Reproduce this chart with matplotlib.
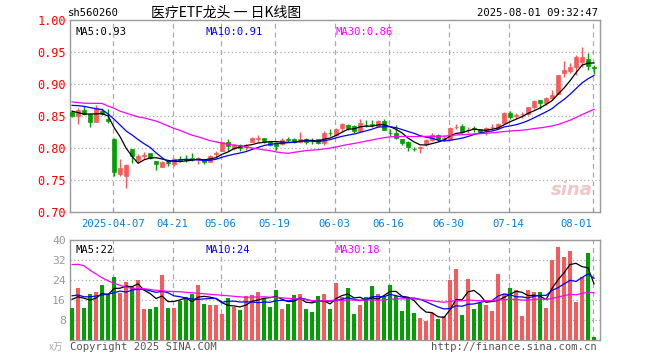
import matplotlib
matplotlib.use('Agg')
import matplotlib.pyplot as plt
import numpy as np
import pandas as pd

# ---------------- data ----------------
holidays = ['2025-04-04', '2025-05-01', '2025-05-02', '2025-05-05', '2025-06-02']
dates = [d.strftime('%Y-%m-%d') for d in pd.bdate_range('2025-03-26', '2025-08-01')
         if d.strftime('%Y-%m-%d') not in holidays]

opens = [0.856, 0.851, 0.8604, 0.8531, 0.8417, 0.8589, 0.845, 0.8146, 0.7594, 0.7573,
         0.799, 0.7817, 0.788, 0.792, 0.780, 0.7708, 0.779, 0.775, 0.7833, 0.7833,
         0.7855, 0.783, 0.783, 0.779, 0.7905, 0.7964, 0.8094, 0.801, 0.805, 0.802,
         0.8104, 0.8146, 0.8156, 0.8094, 0.808, 0.8063, 0.8146, 0.8146, 0.8094, 0.8146,
         0.8135, 0.814, 0.808, 0.8245, 0.8208, 0.8318, 0.8365, 0.835, 0.8276, 0.837,
         0.838, 0.835, 0.843, 0.8245, 0.8234, 0.8141, 0.810, 0.7995, 0.800, 0.8067,
         0.8130, 0.8208, 0.8150, 0.8140, 0.8330, 0.8354, 0.8280, 0.8310, 0.8296, 0.8270,
         0.8328, 0.8312, 0.8400, 0.8546, 0.8510, 0.8530, 0.8536, 0.8650, 0.8750, 0.8703,
         0.8781, 0.8848, 0.9171, 0.9213, 0.9275, 0.935, 0.9395, 0.9265]
closes = [0.851, 0.8604, 0.8531, 0.8417, 0.8625, 0.8536, 0.842, 0.7625, 0.7698, 0.774,
          0.7885, 0.7885, 0.789, 0.7844, 0.776, 0.7786, 0.777, 0.7833, 0.7813, 0.7818,
          0.783, 0.785, 0.779, 0.788, 0.792, 0.8094, 0.8032, 0.805, 0.800, 0.804,
          0.8167, 0.8156, 0.8104, 0.8052, 0.804, 0.8135, 0.8135, 0.8104, 0.8146, 0.8104,
          0.8125, 0.809, 0.8245, 0.8235, 0.8307, 0.838, 0.8323, 0.8276, 0.839, 0.8365,
          0.837, 0.8432, 0.8286, 0.824, 0.8156, 0.8089, 0.8026, 0.799, 0.8015, 0.8130,
          0.8208, 0.814, 0.8160, 0.8322, 0.8338, 0.8255, 0.8290, 0.8300, 0.8244, 0.8322,
          0.8335, 0.8385, 0.8546, 0.8484, 0.8520, 0.8540, 0.8640, 0.8744, 0.8708, 0.8791,
          0.8833, 0.9151, 0.9223, 0.9275, 0.9421, 0.943, 0.9291, 0.9255]
highs = [0.8583, 0.8625, 0.8667, 0.854, 0.8677, 0.863, 0.861, 0.8167, 0.7833, 0.7755,
         0.7995, 0.7915, 0.7935, 0.793, 0.780, 0.7795, 0.780, 0.785, 0.7886, 0.7896,
         0.792, 0.7865, 0.784, 0.790, 0.796, 0.8104, 0.8146, 0.8075, 0.806, 0.8075,
         0.8182, 0.821, 0.8166, 0.811, 0.8094, 0.8156, 0.817, 0.8156, 0.826, 0.8156,
         0.8156, 0.815, 0.8276, 0.8307, 0.8318, 0.839, 0.8375, 0.836, 0.8453, 0.845,
         0.8443, 0.8443, 0.8453, 0.8297, 0.8365, 0.8145, 0.811, 0.8026, 0.8036, 0.8145,
         0.824, 0.8225, 0.8205, 0.8335, 0.8375, 0.8375, 0.833, 0.8354, 0.8307, 0.8333,
         0.8385, 0.8400, 0.8567, 0.8588, 0.8546, 0.8567, 0.8650, 0.8755, 0.8755, 0.8796,
         0.891, 0.9151, 0.937, 0.933, 0.9459, 0.9588, 0.9494, 0.930]
lows = [0.849, 0.8385, 0.852, 0.8333, 0.8417, 0.852, 0.839, 0.7563, 0.757, 0.7385,
        0.7775, 0.7775, 0.784, 0.784, 0.7667, 0.770, 0.772, 0.7725, 0.7792, 0.7792,
        0.780, 0.776, 0.775, 0.778, 0.785, 0.7964, 0.7964, 0.797, 0.7964, 0.798,
        0.8094, 0.810, 0.8078, 0.8032, 0.797, 0.805, 0.8094, 0.8078, 0.8083, 0.8062,
        0.8073, 0.806, 0.8058, 0.819, 0.819, 0.8255, 0.829, 0.8234, 0.8255, 0.834,
        0.833, 0.834, 0.828, 0.8193, 0.815, 0.8057, 0.7964, 0.7964, 0.7932, 0.804,
        0.812, 0.8115, 0.8115, 0.813, 0.8307, 0.8245, 0.8245, 0.8255, 0.8234, 0.8208,
        0.8296, 0.830, 0.839, 0.846, 0.846, 0.848, 0.852, 0.862, 0.862, 0.868,
        0.876, 0.8843, 0.911, 0.917, 0.9145, 0.927, 0.9223, 0.916]
volumes = [12.9, 20.9, 12.9, 18.5, 19.3, 22.1, 18.5, 25.3, 19.0, 23.3,
           21.2, 24.1, 12.5, 12.5, 13.3, 26.1, 12.9, 12.9, 15.6, 17.2,
           18.5, 22.1, 14.5, 14.0, 14.0, 10.5, 16.9, 13.3, 12.1, 17.7,
           18.1, 19.3, 16.9, 13.3, 20.1, 12.5, 14.5, 18.1, 18.5, 12.5,
           11.3, 17.8, 18.6, 12.6, 23.05, 17.45, 20.9, 10.65, 14.1, 17.45,
           21.7, 18.65, 17.7, 22.1, 17.7, 11.85, 16.8, 11.05, 8.9, 7.85,
           10.8, 8.5, 9.7, 24.1, 28.5, 10.1, 24.5, 12.5, 14.8, 14.1,
           11.7, 26.65, 18.65, 20.9, 20.1, 9.7, 20.1, 19.3, 19.3, 12.9,
           32.1, 37.3, 33.45, 35.7, 15.45, 25.45, 35.05, 1.45]

# moving-average values at the start of the window (read from the picture,
# their windows begin before the first visible day)
ma5_head = [0.858, 0.8557, 0.8536, 0.8536]
ma10_head = [0.8671, 0.8666, 0.8656, 0.8635, 0.8619, 0.8604, 0.8536, 0.8453, 0.8364]
ma30_head = [0.8725, 0.8715, 0.8705, 0.8703, 0.8703, 0.870, 0.866, 0.8625, 0.858, 0.855,
             0.852, 0.849, 0.8475, 0.845, 0.8425, 0.839, 0.835, 0.831, 0.828, 0.824,
             0.8205, 0.818, 0.815, 0.812, 0.810, 0.808, 0.806, 0.805, 0.804]
vma5_head = [16.4, 17.4, 16.8, 16.1]
vma10_head = [17.8, 18.1, 17.4, 17.4, 17.7, 18.1, 18.5, 19.0, 19.7]
vma30_head = [30.3, 30.4, 29.8, 28.0, 26.5, 25.0, 23.8, 22.8, 22.0, 21.2,
              20.8, 20.8, 20.6, 20.3, 20.0, 19.8, 19.6, 19.5, 19.4, 19.2,
              19.0, 18.8, 18.6, 18.4, 18.2, 18.0, 17.8, 17.6, 17.4]

tick_dates = ['2025-04-07', '2025-04-21', '2025-05-06', '2025-05-19', '2025-06-03',
              '2025-06-16', '2025-06-30', '2025-07-14', '2025-08-01']
tick_labels = ['2025-04-07', '04-21', '05-06', '05-19', '06-03', '06-16', '06-30', '07-14', '08-01']
price_ticks = [0.70, 0.75, 0.80, 0.85, 0.90, 0.95, 1.00]
vol_ticks = [8, 16, 24, 32, 40]


def moving(values, n, head):
    s = pd.Series(values).rolling(n).mean().to_numpy()
    s[:len(head)] = head
    return s


ma5 = moving(closes, 5, ma5_head)
ma10 = moving(closes, 10, ma10_head)
ma30 = moving(closes, 30, ma30_head)
vma5 = moving(volumes, 5, vma5_head)
vma10 = moving(volumes, 10, vma10_head)
vma30 = moving(volumes, 30, vma30_head)

# ---------------- style ----------------
RED = '#f65a5a'
GREEN = '#00a000'
GRID = '#aaaaaa'
FRAME = '#999999'
MONO = 'DejaVu Sans Mono'
CJK = ['Noto Sans CJK SC', 'DejaVu Sans']
FS = 7.6

W, H = 660, 360
fig = plt.figure(figsize=(W / 100, H / 100), dpi=100)
fig.patch.set_facecolor('white')


def px_axes(left, top, right, bottom):
    return fig.add_axes([left / W, 1 - bottom / H, (right - left) / W, (bottom - top) / H])


ax = px_axes(70, 20.3, 600, 212.3)
axv = px_axes(70, 240.3, 600, 340.3)

x = np.arange(len(dates))
tick_pos = [dates.index(d) for d in tick_dates]
xlim = (-0.35, 88.0)

for a in (ax, axv):
    a.set_xlim(*xlim)
    for sp in a.spines.values():
        sp.set_color(FRAME)
        sp.set_linewidth(1.0)
    for p in tick_pos:
        a.axvline(p - 0.25, color=GRID, lw=0.9, ls=(0, (4, 3)), zorder=0)
    a.set_facecolor('white')

# ---- candles ----
o = np.array(opens); c = np.array(closes); hi = np.array(highs); lo = np.array(lows)
up = c >= o
cols = np.where(up, RED, GREEN)
ax.vlines(x, lo, hi, colors=cols, lw=1.0, zorder=3)
body_bottom = np.minimum(o, c)
body_h = np.maximum(np.abs(c - o), 0.0006)
ax.bar(x, body_h, bottom=body_bottom, width=0.8, color=cols, edgecolor=cols, lw=0.5, zorder=4)

ax.plot(x, ma5, color='black', lw=0.9, zorder=5)
ax.plot(x, ma10, color='#0000ff', lw=0.9, zorder=5)
ax.plot(x, ma30, color='#ff00ff', lw=0.9, zorder=5)

ax.set_ylim(0.70, 1.00)
ax.set_yticks(price_ticks)
ax.set_yticklabels([f'{v:.2f}' for v in price_ticks], color='red', fontsize=8.6, family=MONO)
for v in price_ticks[1:-1]:
    ax.axhline(v, color=GRID, lw=0.9, ls=(0, (1, 2)), zorder=0)
ax.tick_params(axis='y', length=0, pad=3)
ax.set_xticks([p - 0.25 for p in tick_pos])
ax.set_xticklabels(tick_labels, color='#0a7fd0', fontsize=FS, family=MONO)
ax.tick_params(axis='x', direction='in', length=3, color=FRAME, pad=5)
last = ax.get_xticklabels()[-1]
last.set_ha('right')
last.set_x(87.7)

# ---- volume ----
axv.bar(x, volumes, width=0.8, color=cols, zorder=3)
axv.plot(x, vma5, color='black', lw=0.9, zorder=5)
axv.plot(x, vma10, color='#0000ff', lw=0.9, zorder=5)
axv.plot(x, vma30, color='#ff00ff', lw=0.9, zorder=5)
axv.set_ylim(0, 40)
axv.set_yticks(vol_ticks)
axv.set_yticklabels([str(v) for v in vol_ticks], color='#999999', fontsize=8.2, family=MONO)
for v in vol_ticks[:-1]:
    axv.axhline(v, color=GRID, lw=0.9, ls=(0, (1, 2)), zorder=0)
axv.tick_params(axis='y', length=0, pad=3)
axv.set_xticks([])

# ---- texts ----
fig.text(68 / W, 1 - 13 / H, 'sh560260', fontsize=FS, family=MONO, va='center', ha='left')
fig.text(151 / W, 1 - 13 / H, '医疗ETF龙头 一 日K线图', fontsize=10, family=CJK, va='center', ha='left')
fig.text(598 / W, 1 - 13 / H, '2025-08-01 09:32:47', fontsize=FS, family=MONO, va='center', ha='right')


def px_x(px):
    return (px - 70) / 530


ax.text(px_x(75), 0.965, f'MA5:{ma5[-1]:.2f}', transform=ax.transAxes, fontsize=FS, family=MONO,
        color='black', va='top', ha='left')
ax.text(px_x(205), 0.965, f'MA10:{ma10[-1]:.2f}', transform=ax.transAxes, fontsize=FS, family=MONO,
        color='#0000ff', va='top', ha='left')
ax.text(px_x(335), 0.965, f'MA30:{ma30[-1]:.2f}', transform=ax.transAxes, fontsize=FS, family=MONO,
        color='#ff00ff', va='top', ha='left')
axv.text(px_x(75), 0.95, f'MA5:{int(vma5[-1])}', transform=axv.transAxes, fontsize=FS, family=MONO,
         color='black', va='top', ha='left')
axv.text(px_x(205), 0.95, f'MA10:{int(vma10[-1])}', transform=axv.transAxes, fontsize=FS, family=MONO,
         color='#0000ff', va='top', ha='left')
axv.text(px_x(335), 0.95, f'MA30:{int(vma30[-1])}', transform=axv.transAxes, fontsize=FS, family=MONO,
         color='#ff00ff', va='top', ha='left')

fig.text(63 / W, 1 - 347 / H, 'x万', fontsize=7, family=CJK, color='#aaaaaa', va='center', ha='right')
fig.text(70 / W, 1 - 347 / H, 'Copyright 2025 SINA.COM', fontsize=FS, family=MONO, color='#555555',
         va='center', ha='left')
fig.text(597 / W, 1 - 347 / H, 'http://finance.sina.com.cn', fontsize=FS, family=MONO, color='#555555',
         va='center', ha='right')
fig.text(572 / W, 1 - 190 / H, 'sina', fontsize=13, style='italic', weight='bold', color='#e8a0a0',
         alpha=0.6, va='center', ha='center')

fig.savefig('out.png', dpi=100)
